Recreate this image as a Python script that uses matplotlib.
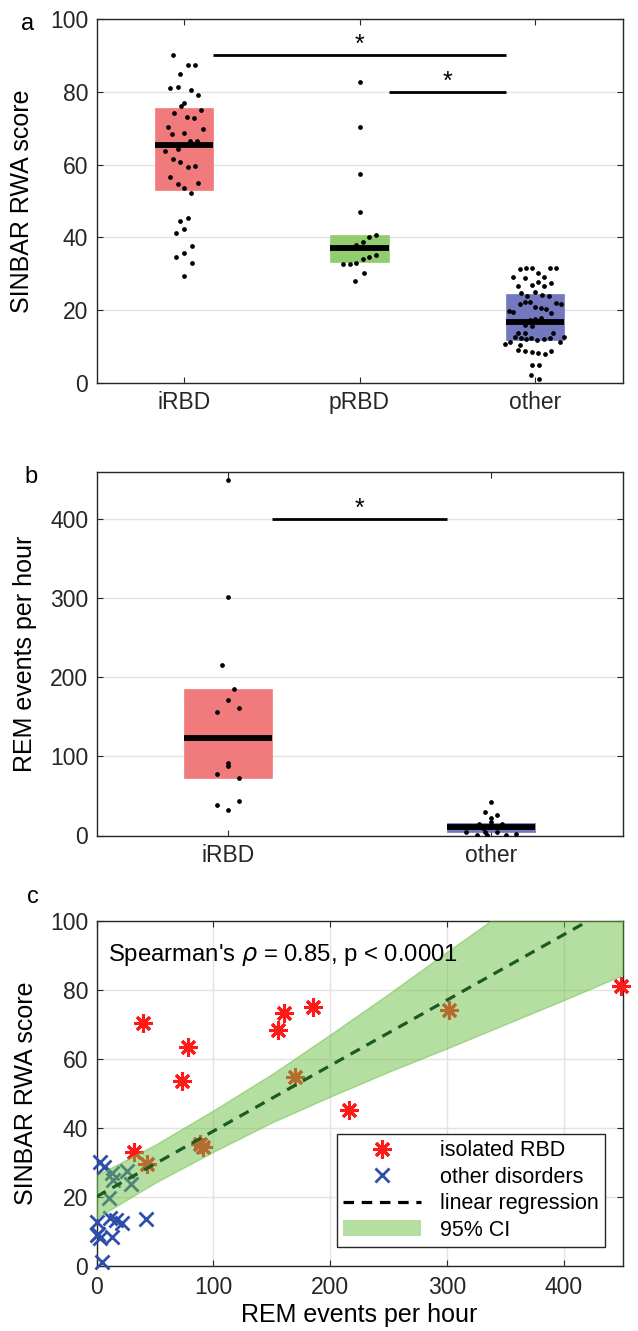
import matplotlib
matplotlib.use("Agg")
import matplotlib.pyplot as plt
from matplotlib.lines import Line2D
from matplotlib.patches import Patch
import numpy as np

plt.rcParams['font.family'] = ['Liberation Sans', 'DejaVu Sans']
plt.rcParams['mathtext.fontset'] = 'dejavusans'

# ---------------- Panel a data ----------------
cats_a = ["iRBD", "pRBD", "other"]
box_a_q1 = [53.0, 33.2, 11.8]
box_a_med = [65.4, 37.1, 16.7]
box_a_q3 = [75.5, 40.6, 24.5]
colors_a = ["#F17B7C", "#92CC6E", "#7478BE"]

irbd_a = [90.1, 87.3, 87.5, 84.8, 81.0, 81.4, 80.5, 79.2, 76.0, 76.9, 74.2, 75.0, 73.1, 72.8,
          70.4, 69.8, 68.5, 68.8, 66.4, 66.4, 63.7, 64.2, 61.5, 60.7, 59.4, 59.7, 56.7, 54.8,
          53.6, 54.9, 52.2, 44.5, 45.3, 41.2, 42.2, 37.6, 34.6, 35.7, 33.1, 29.4]
irbd_a_jit = [-0.063, 0.021, 0.063, -0.021, -0.080, -0.038, 0.040, 0.080, -0.019, 0.000, -0.057,
              0.095, 0.019, 0.057, -0.095, 0.110, -0.072, 0.000, 0.036, 0.072, -0.108, -0.034,
              -0.063, -0.021, 0.021, 0.063, -0.080, -0.038, 0.000, 0.080, 0.040, -0.023, 0.023,
              -0.044, 0.000, 0.044, -0.044, 0.000, 0.044, 0.000]
prbd_a = [82.6, 70.4, 57.3, 46.9, 40.2, 40.6, 38.0, 38.6, 35.3, 34.6, 34.0, 32.7, 32.7, 33.1, 30.2, 28.0]
prbd_a_jit = [0, 0, 0, 0, 0.057, 0.095, -0.019, 0.019, 0.095, 0.057, 0.019, -0.095, -0.057, -0.019,
              0.023, -0.023]
other_a = [31.7, 31.7, 31.7, 31.7, 31.2, 30.3,
           29.0, 28.9, 29.2,
           26.6, 27.0, 27.8, 26.6, 27.5,
           24.7, 23.9, 24.9, 24.2, 24.0,
           21.7, 22.3, 22.2, 20.9, 20.7, 20.4, 22.0, 21.6,
           19.7, 19.4, 19.3,
           17.2, 17.5, 17.9,
           15.9, 15.6,
           13.6, 13.8, 12.6, 12.4, 12.2, 12.4, 11.8, 12.0, 12.4, 13.6, 11.3, 12.6,
           10.8, 11.4, 10.5,
           9.1, 8.9, 8.5, 8.2, 7.9, 8.8,
           4.9, 4.9,
           2.2, 1.1]
other_a_jit = [-0.053, -0.019, 0.089, 0.123, -0.085, 0.019,
               -0.122, -0.057, 0.053,
               -0.095, -0.019, 0.019, 0.053, 0.095,
               -0.080, -0.042, 0.002, 0.040, 0.078,
               -0.087, -0.057, -0.030, 0.002, 0.034, 0.061, 0.122, 0.150,
               -0.150, -0.122, 0.093,
               -0.028, 0.000, 0.038,
               -0.057, -0.019,
               -0.095, -0.057, -0.114, -0.080, -0.049, -0.023, 0.011, 0.053, 0.084, 0.103, 0.144, 0.167,
               -0.169, -0.139, -0.085,
               -0.095, -0.055, -0.017, 0.019, 0.057, 0.095,
               -0.019, 0.025,
               -0.023, 0.021]

# ---------------- Panel b data ----------------
cats_b = ["iRBD", "other"]
box_b_q1 = [72.5, 4.2]
box_b_med = [123.5, 11.0]
box_b_q3 = [185.0, 16.0]
colors_b = ["#F17B7C", "#7478BE"]
irbd_b = [449.5, 301, 215, 185, 171, 161, 155.6, 92, 88, 78, 72.5, 43, 39, 32]
irbd_b_jit = [0, 0, -0.024, 0.022, 0, 0.043, -0.043, 0, 0, -0.043, 0.043, 0.043, -0.043, 0]
other_b = [42.6, 30, 25.7, 21.5, 17.3, 14, 14, 11, 9, 4, 4, 4, 0.5, 0.5, 0.5, 1.5]
other_b_jit = [0, -0.022, 0.024, 0, 0, -0.044, 0.042, 0.03, -0.03, -0.094, -0.022, 0.024, -0.055,
               -0.017, 0.058, 0.095]

# ---------------- Panel c data ----------------
rbd_x = [39.7, 77.9, 72.8, 155, 160.6, 185, 32, 43.3, 88.4, 91.2, 170, 301.8, 216, 449]
rbd_y = [70.5, 63.6, 53.6, 68.4, 73.2, 75.0, 32.9, 29.5, 35.4, 34.6, 54.7, 74.2, 45.2, 81.3]
oth_x = [2.8, 6.2, 13.3, 14.2, 26.1, 29.8, 10.8, 0, 11.3, 17.0, 22.2, 42.6, 0, 2.8, 1.0, 13.3, 5.1]
oth_y = [30.2, 28.8, 26.9, 24.9, 27.6, 23.8, 19.6, 12.8, 13.8, 13.3, 12.4, 13.6, 9.0, 8.0, 9.3, 8.5, 1.3]
reg_x = [0, 450]
reg_y = [20.1, 105.6]
band_x = [0, 50, 100, 150, 200, 250, 300, 350, 400, 450]
band_hi = [26.3, 35.1, 45.1, 55.6, 67.1, 78.9, 91.1, 103.1, 115.1, 126.9]
band_lo = [13.9, 24.1, 33.1, 41.6, 49.1, 56.3, 63.1, 70.1, 77.1, 84.3]

W, H = 638, 1331
fig = plt.figure(figsize=(W / 100, H / 100), dpi=100)

L, R = 96.5, 622.5
def add_ax(top, bottom):
    return fig.add_axes([L / W, 1 - bottom / H, (R - L) / W, (bottom - top) / H])

axa = add_ax(19, 383)
axb = add_ax(471.7, 835.5)
axc = add_ax(921, 1266)

TICK_FS = 16.5
LAB_FS = 18
EDGE = "#262626"
GRID = "#E3E3E3"

def style(ax):
    for s in ax.spines.values():
        s.set_color(EDGE)
        s.set_linewidth(1.0)
    ax.tick_params(direction="in", length=4, width=0.8, colors=EDGE, labelcolor="#262626",
                   labelsize=TICK_FS, top=True, right=True, pad=6)
    ax.set_axisbelow(True)

BW = 1 / 3.0

def boxpanel(ax, cats, q1, med, q3, cols, groups, jits):
    for i in range(len(cats)):
        pos = i + 1
        ax.bar(pos, q3[i] - q1[i], bottom=q1[i], width=BW, color=cols[i], edgecolor=cols[i],
               linewidth=0.5, zorder=2)
        ax.plot([pos - BW / 2, pos + BW / 2], [med[i], med[i]], color="black", lw=4.2,
                solid_capstyle="butt", zorder=3)
        xs = pos + np.asarray(jits[i])
        ax.plot(xs, groups[i], ls="none", marker="o", ms=2.4, color="black", zorder=4)
    ax.set_xlim(0.5, len(cats) + 0.5)
    ax.set_xticks(range(1, len(cats) + 1))
    ax.set_xticklabels(cats)
    ax.yaxis.grid(True, color=GRID, lw=1.0)

def sig(ax, x0, x1, y, dy):
    ax.plot([x0, x1], [y, y], color="black", lw=2.0, solid_capstyle="butt", zorder=5)
    ax.text((x0 + x1) / 2, y + dy, "*", ha="center", va="center", fontsize=18, zorder=5)

# Panel a
style(axa)
boxpanel(axa, cats_a, box_a_q1, box_a_med, box_a_q3, colors_a,
         [irbd_a, prbd_a, other_a], [irbd_a_jit, prbd_a_jit, other_a_jit])
axa.set_ylim(0, 100)
axa.set_yticks([0, 20, 40, 60, 80, 100])
axa.set_ylabel("SINBAR RWA score", fontsize=LAB_FS)
axa.yaxis.set_label_coords(-0.118, 0.5)
sig(axa, 1 + BW / 2, 3 - BW / 2 + 0.003, 90, 2.8)
sig(axa, 2 + BW / 2, 3 - BW / 2 + 0.003, 80, 2.8)

# Panel b
style(axb)
boxpanel(axb, cats_b, box_b_q1, box_b_med, box_b_q3, colors_b,
         [irbd_b, other_b], [irbd_b_jit, other_b_jit])
axb.set_ylim(0, 460)
axb.set_yticks([0, 100, 200, 300, 400])
axb.set_ylabel("REM events per hour", fontsize=LAB_FS)
axb.yaxis.set_label_coords(-0.113, 0.5)
sig(axb, 1 + BW / 2, 2 - BW / 2, 400, 13)

# Panel c
style(axc)
axc.tick_params(axis="x", pad=7)
axc.grid(True, color=GRID, lw=1.0)
RED = "#FF1A1A"
BLUE = "#2F4DAA"
axc.plot(rbd_x, rbd_y, ls="none", marker=(8, 2, 0), ms=13, mew=2.2, color=RED, zorder=3, clip_on=False)
axc.plot(oth_x, oth_y, ls="none", marker="x", ms=10, mew=2.0, color=BLUE, zorder=3, clip_on=False)
BAND = "#6DBE45"
axc.fill_between(band_x, band_lo, band_hi, color=BAND, alpha=0.5, lw=1.0, edgecolor=BAND, zorder=4)
axc.plot(reg_x, reg_y, color="#1B5A24", lw=2.3, dashes=(3.3, 2.4), zorder=5)
axc.set_xlim(0, 450)
axc.set_ylim(0, 100)
axc.set_xticks([0, 100, 200, 300, 400])
axc.set_yticks([0, 20, 40, 60, 80, 100])
axc.set_ylabel("SINBAR RWA score", fontsize=LAB_FS)
axc.yaxis.set_label_coords(-0.111, 0.5)
axc.set_xlabel("REM events per hour", fontsize=LAB_FS)
axc.xaxis.set_label_coords(0.5, -0.108)
axc.text(9.6, 90, r"Spearman's $\rho$ = 0.85, p < 0.0001", fontsize=17.2, va="center", ha="left", zorder=6)

handles = [
    Line2D([], [], ls="none", marker=(8, 2, 0), ms=13, mew=2.2, color=RED),
    Line2D([], [], ls="none", marker="x", ms=10, mew=2.0, color=BLUE),
    Line2D([], [], color="black", lw=2.3, dashes=(3.3, 2.4)),
    Patch(facecolor=BAND, alpha=0.5, edgecolor="none"),
]
labels = ["isolated RBD", "other disorders", "linear regression", "95% CI"]
leg = axc.legend(handles, labels, loc="lower right", bbox_to_anchor=(0.967, 0.055),
                 fontsize=15.5, frameon=True, fancybox=False, framealpha=1,
                 edgecolor=EDGE, handlelength=3.6, handletextpad=0.9, labelspacing=0.25,
                 borderpad=0.3, borderaxespad=0)
leg.get_frame().set_linewidth(1.0)
leg.set_zorder(10)

# panel letters
fig.text(28 / W, 1 - 24 / H, "a", fontsize=17, ha="center", va="center")
fig.text(31 / W, 1 - 477 / H, "b", fontsize=17, ha="center", va="center")
fig.text(33 / W, 1 - 897 / H, "c", fontsize=17, ha="center", va="center")

fig.savefig("out.png", dpi=100)
